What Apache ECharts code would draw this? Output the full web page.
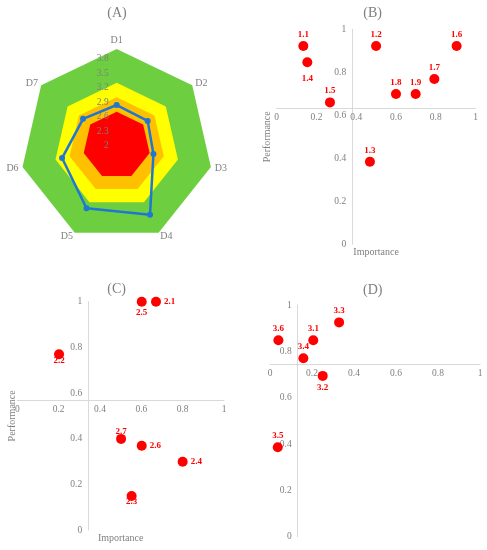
<!DOCTYPE html>
<html><head><meta charset="utf-8">
<script src="https://cdn.jsdelivr.net/npm/echarts@6/dist/echarts.min.js"></script>
<style>html,body{margin:0;padding:0;background:#fff}#c{width:487px;height:550px}</style>
</head><body><div id="c"></div>
<script>
// ---------- Panel A (radar) data ----------
const dims = ['D1', 'D2', 'D3', 'D4', 'D5', 'D6', 'D7'];
const scoreValues = [2.84, 2.82, 2.78, 3.59, 3.44, 3.16, 2.89];
const bandLevels = [4.0, 3.3, 3.0, 2.7];
const radarMin = 2, radarMax = 4;
const radarTickLabels = [2, 2.3, 2.6, 2.9, 3.2, 3.5, 3.8];

// ---------- Panel B data ----------
const bNames = ['1.1', '1.2', '1.3', '1.4', '1.5', '1.6', '1.7', '1.8', '1.9'];
const bImportance = [0.134, 0.50, 0.469, 0.154, 0.268, 0.905, 0.793, 0.60, 0.699];
const bPerformance = [0.922, 0.922, 0.384, 0.847, 0.66, 0.922, 0.769, 0.699, 0.699];
const bCross = [0.38, 0.633];

// ---------- Panel C data ----------
const cNames = ['2.1', '2.2', '2.3', '2.4', '2.5', '2.6', '2.7'];
const cImportance = [0.671, 0.202, 0.553, 0.80, 0.602, 0.602, 0.502];
const cPerformance = [1.0, 0.77, 0.149, 0.299, 1.0, 0.369, 0.399];
const cCross = [0.343, 0.569];

// ---------- Panel D data ----------
const dNames = ['3.1', '3.2', '3.3', '3.4', '3.5', '3.6'];
const dImportance = [0.206, 0.251, 0.329, 0.159, 0.037, 0.04];
const dPerformance = [0.848, 0.694, 0.925, 0.77, 0.386, 0.848];
const dCross = [0.132, 0.744];

const axisTicks = [0, 0.2, 0.4, 0.6, 0.8, 1];

// ---------- styles (kept apart from data) ----------
const bandColors = ['#6dcf3f', '#ffff00', '#ffc000', '#ff0000'];
const lineBlue = '#1f77d2';
const gray = '#7f7f7f';
const serif = 'Liberation Serif';
const bLabelPos = ['top', 'top', 'top', 'bottom', 'top', 'top', 'top', 'top', 'top'];
const bLabelDist = [2, 2, 2, 7, 2, 2, 2, 2, 2];
const cLabelPos = ['right', 'bottom', 'bottom', 'right', 'bottom', 'right', 'top'];
const cLabelDist = [3, -3, -4, 3, 1, 3, -2];
const dLabelPos = ['top', 'bottom', 'top', 'top', 'top', 'top'];
const dLabelDist = [2, 2, 2, 2, 2, 2];

const radarCenter = [116.7, 145.6];
const radarRadius = 96.6;

const panels = [
  {names: bNames, x: bImportance, y: bPerformance, cross: bCross, pos: bLabelPos, dist: bLabelDist,
   rect: {left: 276.7, top: 29.3, width: 198.8, height: 215}, xName: 'Importance', yName: 'Performance', xGap: 3, yGap: 4},
  {names: cNames, x: cImportance, y: cPerformance, cross: cCross, pos: cLabelPos, dist: cLabelDist,
   rect: {left: 17.3, top: 301.7, width: 206.7, height: 228.3}, xName: 'Importance', yName: 'Performance', xGap: 3, yGap: 0},
  {names: dNames, x: dImportance, y: dPerformance, cross: dCross, pos: dLabelPos, dist: dLabelDist,
   rect: {left: 270, top: 305, width: 210, height: 231.7}, xName: '', yName: '', xGap: 3, yGap: 0}
];

// radar indicators in counter-clockwise order so that D1..D7 run clockwise on screen
const order = [0, 6, 5, 4, 3, 2, 1];

const chart = echarts.init(document.getElementById('c'));

const grids = [], xAxes = [], yAxes = [], series = [];
const labelTextStyle = {color: gray, fontFamily: serif, fontSize: 9.5};
const tickStep = axisTicks[1] - axisTicks[0];
const hidden = {axisLine: {show: false, onZero: false}, axisTick: {show: false}, splitLine: {show: false}, axisLabel: {show: false}};

panels.forEach((p, k) => {
  grids.push(p.rect);
  xAxes.push({
    gridIndex: k, type: 'value', min: axisTicks[0], max: axisTicks[axisTicks.length - 1], interval: tickStep,
    position: 'bottom', offset: -p.cross[1] * p.rect.height,
    axisLine: {onZero: false, lineStyle: {color: '#d9d9d9', width: 1}},
    axisTick: {show: false}, splitLine: {show: false},
    axisLabel: Object.assign({margin: 4}, labelTextStyle)
  });
  xAxes.push(Object.assign({
    gridIndex: k, type: 'value', min: 0, max: 1, position: 'bottom',
    name: p.xName, nameLocation: 'middle', nameGap: p.xGap,
    nameTextStyle: {color: gray, fontFamily: serif, fontSize: 10, verticalAlign: 'top'}
  }, hidden));
  yAxes.push({
    gridIndex: k, type: 'value', min: axisTicks[0], max: axisTicks[axisTicks.length - 1], interval: tickStep,
    position: 'left', offset: -p.cross[0] * p.rect.width,
    axisLine: {onZero: false, lineStyle: {color: '#d9d9d9', width: 1}},
    axisTick: {show: false}, splitLine: {show: false},
    axisLabel: Object.assign({margin: 6}, labelTextStyle)
  });
  yAxes.push(Object.assign({
    gridIndex: k, type: 'value', min: 0, max: 1, position: 'left',
    name: p.yName, nameLocation: 'middle', nameGap: p.yGap,
    nameTextStyle: {color: gray, fontFamily: serif, fontSize: 10}
  }, hidden));
  series.push({
    type: 'scatter', xAxisIndex: 2 * k, yAxisIndex: 2 * k,
    symbol: 'circle', symbolSize: 10,
    itemStyle: {color: '#ff0000', opacity: 1},
    label: {show: true, formatter: '{b}', color: '#ff0000', fontWeight: 'bold', fontSize: 9, fontFamily: serif},
    data: p.names.map((n, i) => ({
      name: n, value: [p.x[i], p.y[i]],
      label: {position: p.pos[i], distance: p.dist[i]}
    }))
  });
});

// value scale of the radar's D1 spoke (drawn as a bare axis running from centre to rim, above the bands)
grids.push({left: radarCenter[0], top: radarCenter[1] - radarRadius, width: 1, height: radarRadius, z: 10});
xAxes.push(Object.assign({gridIndex: 3, type: 'value', min: 0, max: 1}, hidden));
yAxes.push({
  gridIndex: 3, type: 'value', min: radarMin, max: radarMax, interval: 0.1, position: 'left',
  z: 10, zlevel: 0,
  axisLine: {show: false, onZero: false}, axisTick: {show: false}, splitLine: {show: false},
  axisLabel: {
    show: true, margin: 8, color: gray, fontFamily: serif, fontSize: 9.5,
    showMinLabel: true, showMaxLabel: true,
    formatter: function (v) {
      const hit = radarTickLabels.find(t => Math.abs(t - v) < 1e-6);
      return hit !== undefined ? String(hit) : '';
    }
  }
});

bandLevels.forEach((lv, i) => {
  series.push({
    type: 'radar', radarIndex: 0, silent: true, symbol: 'none', z: 1,
    lineStyle: {opacity: 0, width: 0},
    areaStyle: {color: bandColors[i], opacity: 1},
    data: [{value: order.map(() => lv)}]
  });
});
series.push({
  type: 'radar', radarIndex: 0, symbol: 'circle', symbolSize: 6, z: 12,
  lineStyle: {color: lineBlue, width: 2.5},
  itemStyle: {color: lineBlue},
  data: [{value: order.map(i => scoreValues[i])}]
});

const titleStyle = {color: gray, fontFamily: serif, fontSize: 14, fontWeight: 'normal'};
const option = {
  animation: false,
  backgroundColor: '#ffffff',
  title: [
    {text: '(A)', left: 117, top: 6, textAlign: 'center', padding: 0, textStyle: titleStyle},
    {text: '(B)', left: 372.7, top: 6, textAlign: 'center', padding: 0, textStyle: titleStyle},
    {text: '(C)', left: 116.7, top: 282, textAlign: 'center', padding: 0, textStyle: titleStyle},
    {text: '(D)', left: 372.7, top: 283, textAlign: 'center', padding: 0, textStyle: titleStyle}
  ],
  grid: grids,
  xAxis: xAxes,
  yAxis: yAxes,
  radar: {
    center: radarCenter, radius: radarRadius, startAngle: 90, shape: 'polygon',
    splitNumber: 4,
    nameGap: 4,
    axisName: {color: gray, fontFamily: serif, fontSize: 10},
    axisLine: {show: false}, axisTick: {show: false},
    splitLine: {show: false}, splitArea: {show: false},
    axisLabel: {show: false},
    indicator: order.map(i => ({name: dims[i], min: radarMin, max: radarMax}))
  },
  series: series
};
chart.setOption(option);
</script>
</body></html>
